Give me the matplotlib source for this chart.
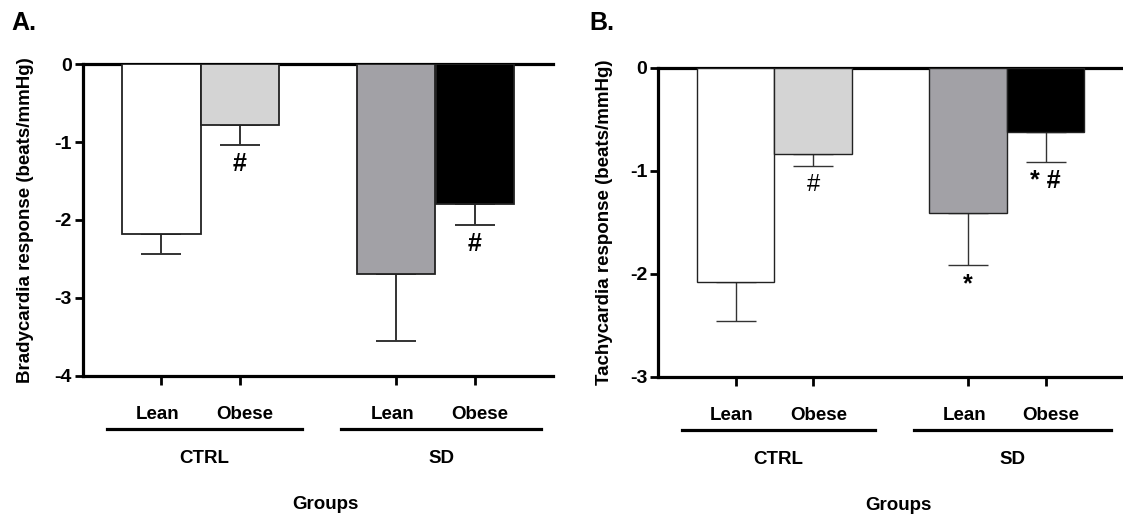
import numpy as np
import matplotlib
matplotlib.use("Agg")
import matplotlib.pyplot as plt
from matplotlib.transforms import ScaledTranslation

plt.rcParams["font.family"] = ["Liberation Sans", "DejaVu Sans"]
plt.rcParams["font.weight"] = "bold"
plt.rcParams["axes.labelweight"] = "bold"
plt.rcParams["axes.unicode_minus"] = False

# bar order: CTRL lean, CTRL obese, SD lean, SD obese
diets = ["CTRL", "SD"]
phenotypes = ["Lean", "Obese"]
brady_mean = [-2.18, -0.78, -2.69, -1.80]
brady_sem = [0.26, 0.26, 0.87, 0.27]
tachy_mean = [-2.08, -0.84, -1.41, -0.62]
tachy_sem = [0.38, 0.11, 0.51, 0.30]
brady_marks = ["", "#", "", "#"]
brady_bold = [True, True, True, True]
tachy_marks = ["", "#", "*", "* #"]
tachy_bold = [True, False, True, True]

positions = [1, 2, 4, 5]
fills = ["white", "#d4d4d4", "#a2a1a6", "black"]

fig = plt.figure(figsize=(11.23, 5.25), dpi=100)
PX = 72 / 100  # points per pixel


def panel(rect, mean, sem, marks, bold, ylim, ylabel, labelpad, letter,
          letter_xy, lw_edge, lw_err):
    ax = fig.add_axes(rect)
    ax.bar(positions, mean, width=1.0, color=fills, edgecolor="#222222",
           linewidth=lw_edge, zorder=3)
    ax.errorbar(positions, mean, yerr=[sem, np.zeros(len(sem))], fmt="none",
                ecolor="#333333", elinewidth=lw_err, capsize=14.4,
                capthick=lw_err, zorder=2)
    for x, m, s, t, b in zip(positions, mean, sem, marks, bold):
        if t:
            ax.annotate(t, (x, m - s), xytext=(0, -19 * PX),
                        textcoords="offset points", ha="center", va="center",
                        fontsize=18 if b else 17,
                        fontweight="bold" if b else "normal",
                        annotation_clip=False)
    ax.set_xlim(0, 6)
    ax.set_ylim(*ylim)
    ax.set_yticks(np.arange(ylim[0], ylim[1] + 1))
    ax.set_xticks(positions)
    ax.set_xticklabels([])
    for side in ["top", "bottom", "left"]:
        ax.spines[side].set_linewidth(2.3)
    ax.spines["right"].set_visible(False)
    ax.tick_params(axis="y", length=6, width=2.0, pad=2, labelsize=14)
    ax.tick_params(axis="x", length=6.5, width=2.0)
    for lab in ax.get_yticklabels():
        lab.set_fontweight("bold")

    # grouped category labels under the axis
    xt = ax.get_xaxis_transform()
    for x, name in zip(positions, phenotypes * 2):
        shift = -0.05 if name == "Lean" else 0.07
        ax.annotate(name, (x + shift, 0), xycoords=xt, xytext=(0, -39 * PX),
                    textcoords="offset points", ha="center", va="center",
                    fontsize=13.5, annotation_clip=False)
    drop = ScaledTranslation(0, -53.6 / 100, fig.dpi_scale_trans)
    for (x0, x1), name in zip([(0.3, 2.8), (3.3, 5.85)], diets):
        ax.plot([x0, x1], [0, 0], transform=xt + drop, color="black",
                linewidth=2.3, clip_on=False)
        ax.annotate(name, ((x0 + x1) / 2, 0), xycoords=xt,
                    xytext=(0, -83 * PX), textcoords="offset points",
                    ha="center", va="center", fontsize=13.5,
                    annotation_clip=False)
    ax.annotate("Groups", (3.1, 0), xycoords=xt, xytext=(0, -129 * PX),
                textcoords="offset points", ha="center", va="center",
                fontsize=13.5, annotation_clip=False)
    ax.set_ylabel(ylabel, fontsize=13.5, fontweight="bold", labelpad=labelpad)
    fig.text(letter_xy[0] / 1123, 1 - letter_xy[1] / 525, letter,
             fontsize=18, fontweight="bold", ha="left", va="top")
    return ax


panel([83 / 1123, 1 - 375.7 / 525, 470 / 1123, 311.4 / 525],
      brady_mean, brady_sem, brady_marks, brady_bold, (-4, 0),
      "Bradycardia response (beats/mmHg)", 15, "A.", (11, 11), 1.3, 1.4)
panel([658.3 / 1123, 1 - 376.7 / 525, 464.7 / 1123, 309 / 525],
      tachy_mean, tachy_sem, tachy_marks, tachy_bold, (-3, 0),
      "Tachycardia response (beats/mmHg)", 12, "B.", (589, 11), 1.0, 1.0)

fig.savefig("out.png", dpi=100)
